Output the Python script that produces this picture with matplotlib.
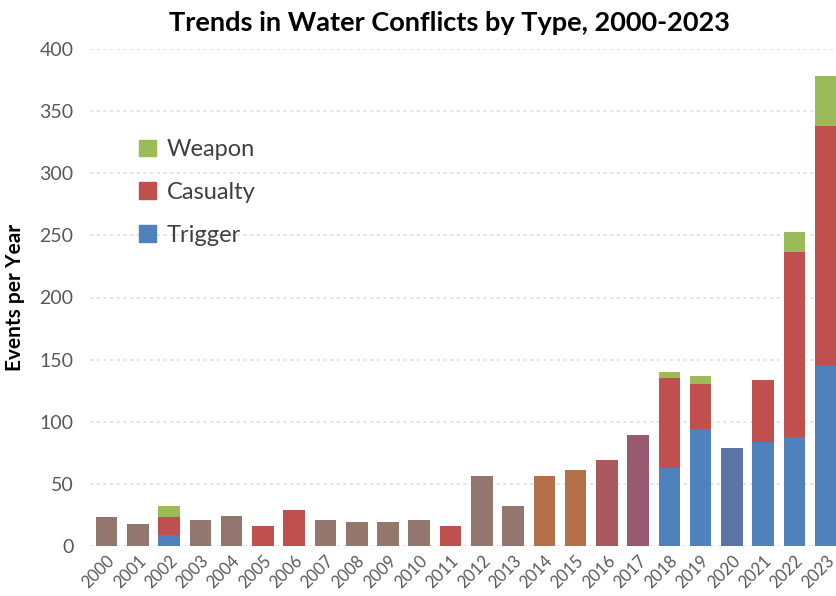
import numpy as np
import matplotlib.pyplot as plt
from matplotlib.patches import Patch

plt.rcParams['font.family'] = ['Lato', 'DejaVu Sans']

years = [str(y) for y in range(2000, 2024)]

# events split by type (zero where no split is available)
trigger = [0, 0, 9, 0, 0, 0, 0, 0, 0, 0, 0, 0,
           0, 0, 0, 0, 0, 0, 63, 94, 0, 84, 88, 145]
casualty = [0, 0, 14, 0, 0, 16, 29, 0, 0, 0, 0, 16,
            0, 0, 0, 0, 0, 0, 72, 36, 0, 50, 149, 193]
weapon = [0, 0, 9, 0, 0, 0, 0, 0, 0, 0, 0, 0,
          0, 0, 0, 0, 0, 0, 5, 7, 0, 0, 16, 40]

# yearly totals reported without a breakdown
unsplit = [23, 18, 0, 21, 24, 0, 0, 21, 19, 19, 21, 0,
           56, 32, 56, 61, 69, 89, 0, 0, 79, 0, 0, 0]
unsplit_colors = ['#93776f'] * 12 + ['#93776f', '#93776f', '#b5704a', '#b5704a',
                                     '#a9585e', '#985a6f', '#93776f', '#93776f',
                                     '#5b76a6', '#93776f', '#93776f', '#93776f']

c_trigger = '#4f81bd'
c_casualty = '#c0504d'
c_weapon = '#9bbb59'

fig = plt.figure(figsize=(8.37, 5.96), dpi=100)
ax = fig.add_axes([90 / 837, 50 / 596, 747 / 837, 497 / 596])

x = np.arange(len(years))
w = 0.69
trigger = np.array(trigger)
casualty = np.array(casualty)
weapon = np.array(weapon)

ax.bar(x, unsplit, w, color=unsplit_colors, zorder=3)
ax.bar(x, trigger, w, color=c_trigger, zorder=3)
ax.bar(x, casualty, w, bottom=trigger, color=c_casualty, zorder=3)
ax.bar(x, weapon, w, bottom=trigger + casualty, color=c_weapon, zorder=3)

ax.set_xlim(-0.53, 23.36)
ax.set_ylim(0, 400)
ax.set_yticks(range(0, 401, 50))
ax.set_xticks(x)
ax.set_xticklabels(years, rotation=45, ha='right', rotation_mode='anchor')
ax.tick_params(axis='x', labelsize=12, colors='#595959', length=0, pad=5)
ax.tick_params(axis='y', labelsize=14, colors='#595959', length=0, pad=12)
for s in ax.spines.values():
    s.set_visible(False)
ax.yaxis.grid(True, color='#e2e2e2', linestyle=(0, (2, 2)), linewidth=1.2, zorder=0)

ax.set_ylabel('Events per Year', fontsize=15, fontweight='bold', labelpad=10)
fig.text(0.537, 0.962, 'Trends in Water Conflicts by Type, 2000-2023',
         ha='center', va='center', fontsize=19.5, fontweight='bold')

handles = [Patch(color=c_weapon, label='Weapon'),
           Patch(color=c_casualty, label='Casualty'),
           Patch(color=c_trigger, label='Trigger')]
leg = fig.legend(handles=handles, loc='upper left', bbox_to_anchor=(118 / 837, 1 - 118 / 596),
                 frameon=False, fontsize=17, handlelength=0.7, handleheight=0.7,
                 handletextpad=0.45, labelspacing=0.92)
for t in leg.get_texts():
    t.set_color('#404040')

fig.savefig('out.png', dpi=100)
